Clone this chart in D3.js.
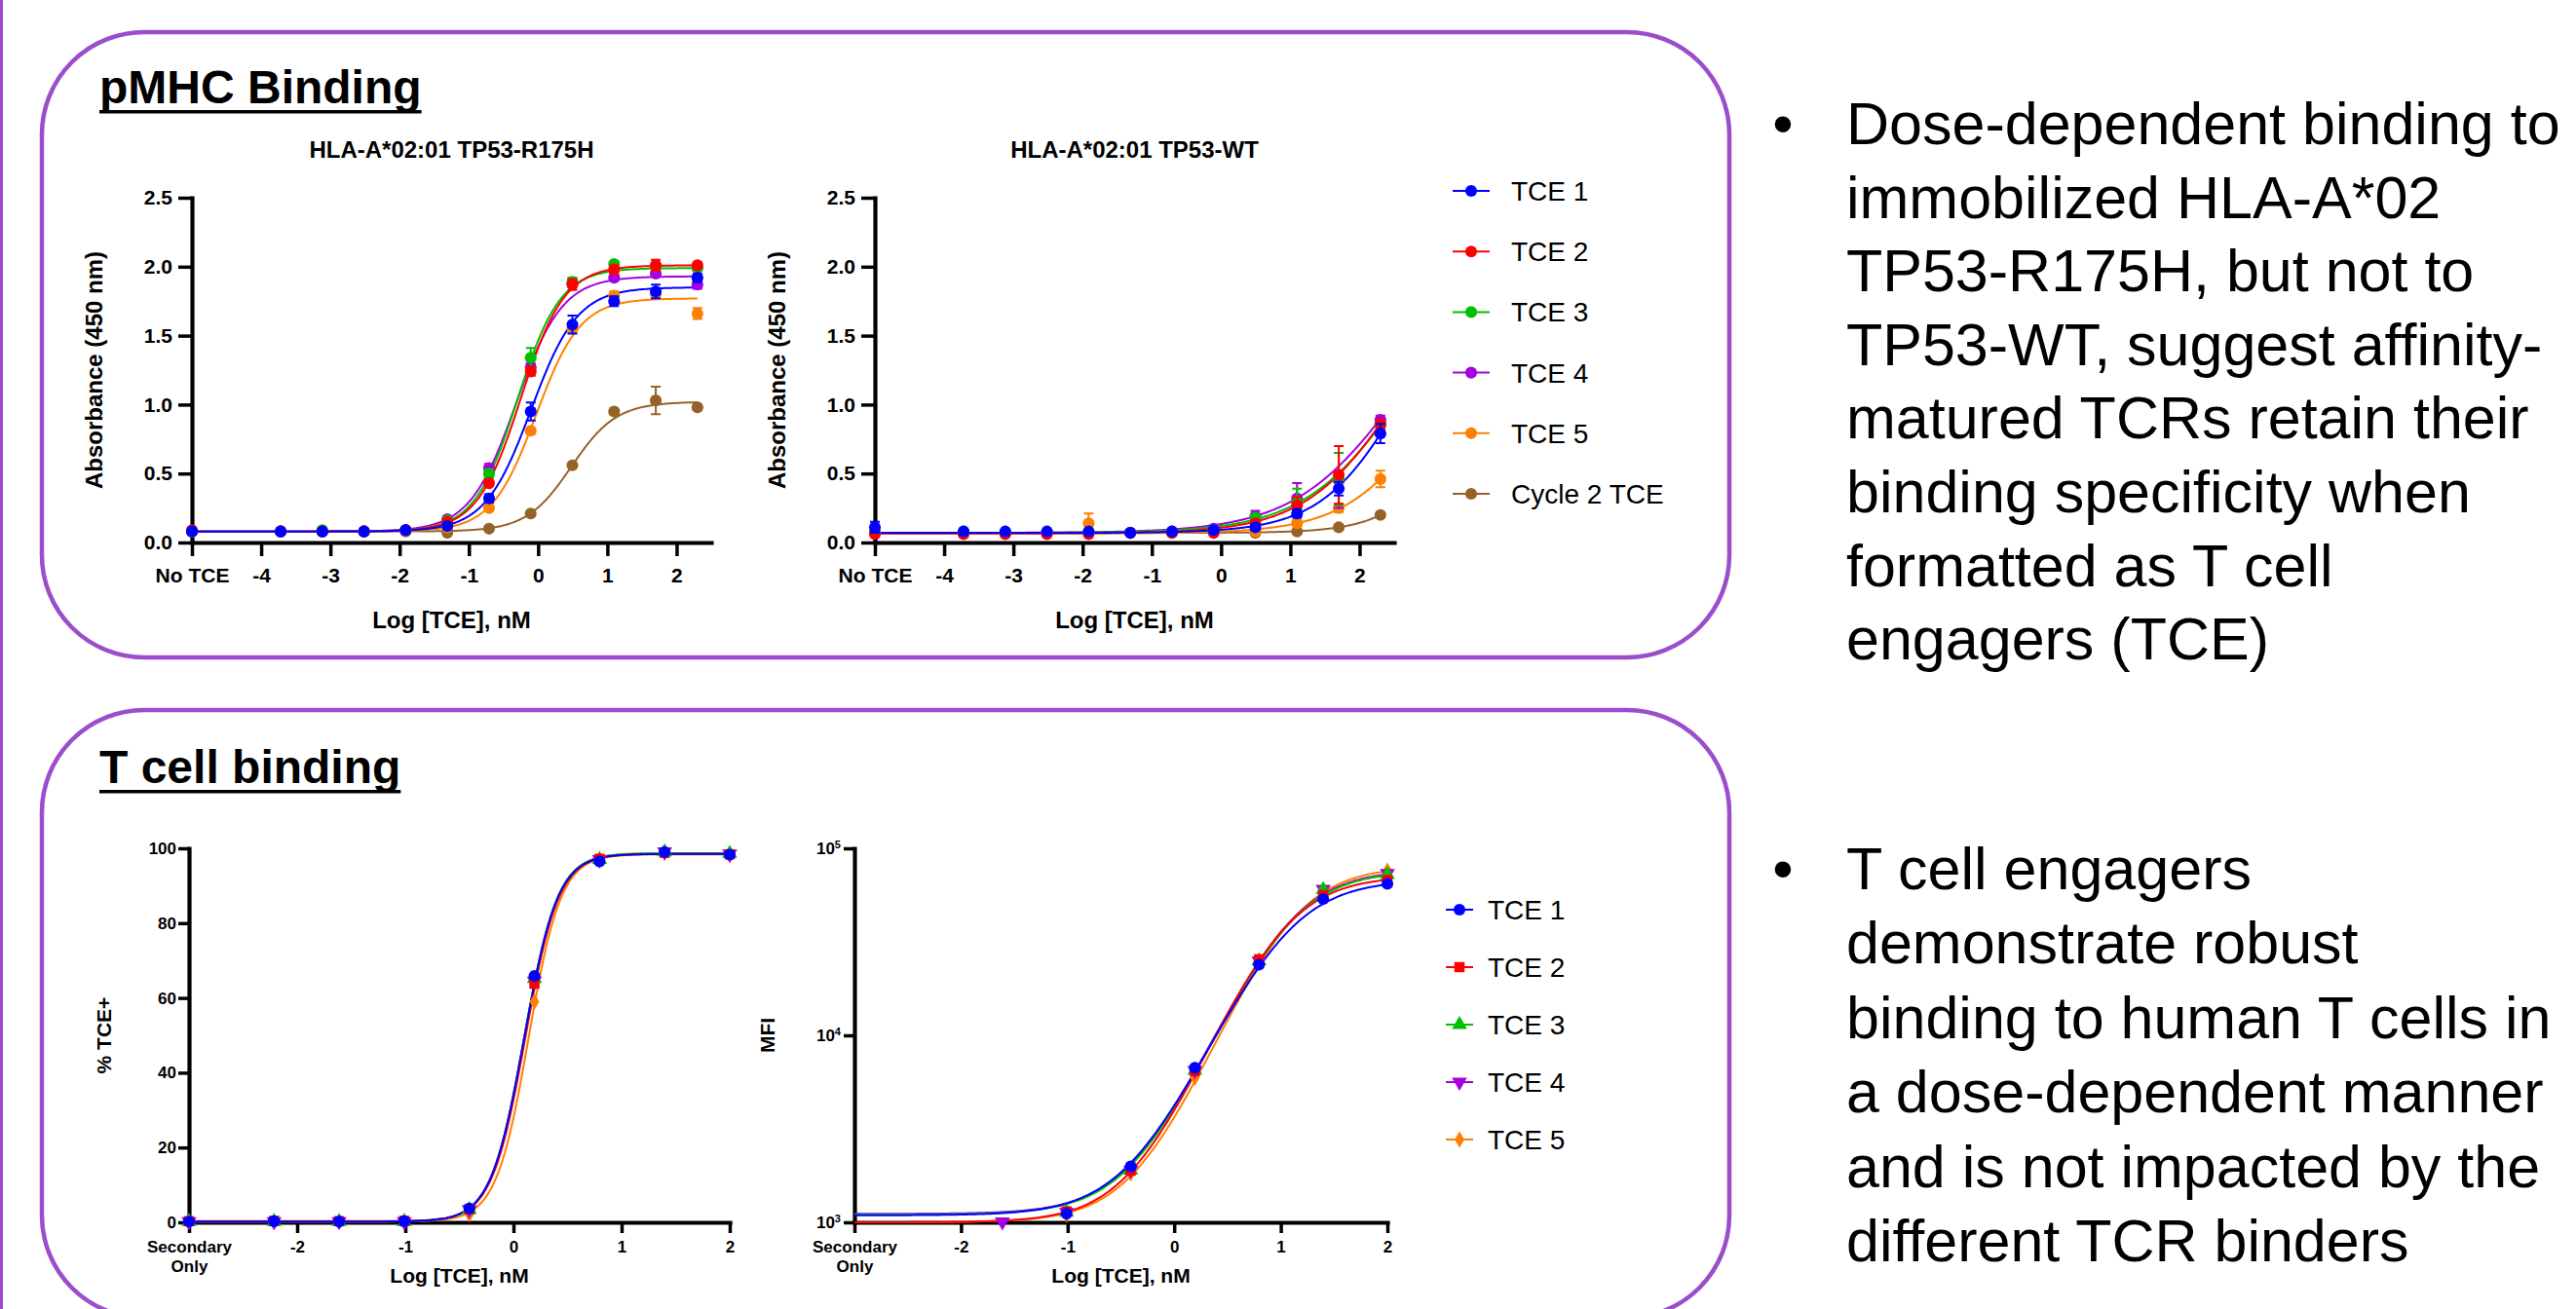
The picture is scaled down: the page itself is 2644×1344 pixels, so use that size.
<!DOCTYPE html>
<html>
<head>
<meta charset="utf-8">
<script src="https://cdn.jsdelivr.net/npm/d3@7"></script>
<style>
  body { margin: 0; background: #fff; }
  svg { display: block; font-family: "Liberation Sans", Arial, sans-serif; }
</style>
</head>
<body>
<div id="fig"></div>
<script>
// ---- data ----
// log10 [TCE] nM, first entry = "No TCE" control
var pmhcDose = [-5, -3.719, -3.117, -2.515, -1.913, -1.311, -0.709, -0.107, 0.495, 1.097, 1.699, 2.301];
var pmhcNames = ["TCE 1", "TCE 2", "TCE 3", "TCE 4", "TCE 5", "Cycle 2 TCE"];
var pmhcColors = ["#0000ff", "#ff0000", "#00c000", "#a600e0", "#ff8000", "#956228"];

var r175hMean = [
  [0.08, 0.08, 0.08, 0.08, 0.09, 0.12, 0.32, 0.95, 1.58, 1.75, 1.82, 1.92],
  [0.09, 0.08, 0.08, 0.08, 0.09, 0.15, 0.43, 1.24, 1.87, 1.98, 2.01, 2.01],
  [0.08, 0.08, 0.09, 0.08, 0.09, 0.16, 0.50, 1.34, 1.89, 2.02, 2.00, 1.99],
  [0.08, 0.08, 0.08, 0.08, 0.09, 0.17, 0.54, 1.27, 1.88, 1.92, 1.95, 1.87],
  [0.08, 0.08, 0.08, 0.08, 0.09, 0.11, 0.25, 0.81, 1.55, 1.79, 1.80, 1.66],
  [0.08, 0.08, 0.08, 0.08, 0.08, 0.07, 0.10, 0.21, 0.56, 0.95, 1.03, 0.98]
];
var r175hErr = [
  [0.02, 0, 0, 0, 0, 0.02, 0.03, 0.065, 0.065, 0.035, 0.05, 0.03],
  [0, 0, 0, 0, 0.01, 0.02, 0.02, 0.03, 0.04, 0.03, 0.04, 0.02],
  [0, 0, 0, 0, 0, 0.02, 0.03, 0.07, 0.03, 0.02, 0.02, 0.02],
  [0, 0, 0, 0, 0, 0.02, 0.03, 0.03, 0.02, 0.02, 0.02, 0.03],
  [0, 0, 0, 0, 0, 0.01, 0.02, 0.02, 0.03, 0.03, 0.03, 0.04],
  [0, 0, 0, 0, 0, 0, 0, 0.01, 0.01, 0.02, 0.10, 0.02]
];
// 4PL fit: bottom, top, logEC50, hill
var r175hFit = [
  [0.08, 1.85, -0.10, 1.30],
  [0.08, 2.01, -0.25, 1.38],
  [0.08, 1.99, -0.30, 1.40],
  [0.08, 1.93, -0.32, 1.30],
  [0.08, 1.77, -0.03, 1.36],
  [0.08, 1.02, 0.48, 1.34]
];

var wtMean = [
  [0.11, 0.08, 0.08, 0.08, 0.08, 0.07, 0.08, 0.09, 0.11, 0.21, 0.39, 0.79],
  [0.06, 0.06, 0.06, 0.06, 0.06, 0.07, 0.07, 0.07, 0.14, 0.27, 0.49, 0.86],
  [0.07, 0.08, 0.07, 0.07, 0.07, 0.07, 0.07, 0.09, 0.18, 0.29, 0.46, 0.85],
  [0.07, 0.07, 0.07, 0.07, 0.07, 0.07, 0.08, 0.10, 0.19, 0.32, 0.45, 0.89],
  [0.07, 0.07, 0.07, 0.07, 0.14, 0.07, 0.07, 0.08, 0.08, 0.14, 0.25, 0.46],
  [0.07, 0.07, 0.07, 0.07, 0.07, 0.07, 0.07, 0.07, 0.07, 0.08, 0.11, 0.20]
];
var wtErr = [
  [0.04, 0, 0, 0, 0, 0, 0, 0.01, 0.02, 0.03, 0.05, 0.07],
  [0, 0, 0, 0, 0, 0, 0, 0, 0.02, 0.06, 0.21, 0.03],
  [0, 0.01, 0, 0, 0, 0, 0, 0, 0.02, 0.10, 0.19, 0.03],
  [0, 0, 0, 0, 0, 0, 0, 0, 0.04, 0.11, 0.20, 0.03],
  [0, 0, 0, 0, 0.07, 0, 0, 0, 0, 0.02, 0.03, 0.06],
  [0, 0, 0, 0, 0, 0, 0, 0, 0, 0.01, 0.01, 0.01]
];
var wtFit = [
  [0.07, 2.0, 2.61, 0.74],
  [0.065, 2.0, 2.54, 0.65],
  [0.07, 2.0, 2.58, 0.61],
  [0.07, 2.0, 2.52, 0.58],
  [0.065, 2.0, 3.18, 0.67],
  [0.07, 2.0, 3.60, 0.88]
];

// log10 [TCE] nM, first entry = "Secondary Only"
var tcellDose = [-3, -2.214, -1.612, -1.010, -0.408, 0.194, 0.796, 1.398, 2.0];
var tcellNames = ["TCE 1", "TCE 2", "TCE 3", "TCE 4", "TCE 5"];
var tcellColors = ["#0000ff", "#ff0000", "#00c000", "#a600e0", "#ff8000"];
var tcellShapes = ["circle", "square", "triangle", "triangleDown", "diamond"];

var pctMean = [
  [0.2, 0.3, 0.2, 0.3, 3.7, 65.9, 96.5, 99.0, 98.3],
  [0.3, 0.4, 0.3, 0.4, 3.5, 63.8, 97.2, 98.8, 98.4],
  [0.2, 0.2, 0.2, 0.2, 3.4, 65.2, 97.0, 99.0, 98.6],
  [0.2, 0.2, 0.2, 0.2, 3.4, 64.5, 97.0, 99.1, 98.5],
  [0.2, 0.2, 0.2, 0.2, 2.2, 59.0, 96.8, 98.8, 98.2]
];
var pctFit = [
  [0.2, 98.5, 0.10, 2.8],
  [0.3, 98.5, 0.11, 2.8],
  [0.2, 98.7, 0.10, 2.8],
  [0.2, 98.6, 0.10, 2.8],
  [0.2, 98.4, 0.14, 2.9]
];

var mfiMean = [
  [null, null, null, 1115, 1990, 6700, 23900, 53600, 64500],
  [null, null, null, 1145, 1890, 6430, 25500, 56200, 67700],
  [null, null, null, 1130, 1900, 6500, 25000, 60000, 72300],
  [null, null, 1005, 1130, 1900, 6500, 25000, 60500, 73400],
  [null, null, null, 1100, 1830, 5940, 24500, 58000, 75800]
];
var mfiFit = [
  [1090, 68000, 1.04, 1.26],
  [1000, 71000, 1.01, 1.34],
  [1100, 76000, 1.06, 1.30],
  [1110, 77000, 1.06, 1.30],
  [1000, 80000, 1.09, 1.34]
];

var absTicks = [0, 0.5, 1, 1.5, 2, 2.5];
var pmhcXTicks = [-5, -4, -3, -2, -1, 0, 1, 2];
var pmhcXLabels = ["No TCE", "-4", "-3", "-2", "-1", "0", "1", "2"];
var tcellXTicks = [-3, -2, -1, 0, 1, 2];
var tcellXLabels = [["Secondary", "Only"], "-2", "-1", "0", "1", "2"];
var pctTicks = [0, 20, 40, 60, 80, 100];
var mfiTicks = [1e3, 1e4, 1e5];

var bullet1 = ["Dose-dependent binding to", "immobilized HLA-A*02", "TP53-R175H, but not to",
  "TP53-WT, suggest affinity-", "matured TCRs retain their", "binding specificity when",
  "formatted as T cell", "engagers (TCE)"];
var bullet2 = ["T cell engagers", "demonstrate robust", "binding to human T cells in",
  "a dose-dependent manner", "and is not impacted by the", "different TCR binders"];

// ---- layout ----
var W = 2644, H = 1344;
var purple = "#9b4dcc";
var svg = d3.select("#fig").append("svg").attr("width", W).attr("height", H);

svg.append("rect").attr("x", 0).attr("y", 0).attr("width", 3).attr("height", H).attr("fill", purple);
svg.append("rect").attr("x", 43).attr("y", 33).attr("width", 1732).attr("height", 642).attr("rx", 105)
  .attr("fill", "none").attr("stroke", purple).attr("stroke-width", 4.5);
svg.append("rect").attr("x", 43).attr("y", 729).attr("width", 1732).attr("height", 624).attr("rx", 105)
  .attr("fill", "none").attr("stroke", purple).attr("stroke-width", 4.5);

function sectionTitle(txt, x, y) {
  var t = svg.append("text").attr("x", x).attr("y", y).attr("font-size", 48).attr("font-weight", "bold").text(txt);
  var w = t.node().getComputedTextLength();
  svg.append("rect").attr("x", x).attr("y", y + 7).attr("width", w).attr("height", 3.5).attr("fill", "#000");
}
sectionTitle("pMHC Binding", 102, 106);
sectionTitle("T cell binding", 102, 804);

function fourPL(p, x) {
  return p[0] + (p[1] - p[0]) / (1 + Math.pow(10, (p[2] - x) * p[3]));
}

function symbolPath(shape) {
  if (shape === "square") return d3.symbol().type(d3.symbolSquare).size(110)();
  if (shape === "triangle" || shape === "triangleDown") return d3.symbol().type(d3.symbolTriangle).size(105)();
  if (shape === "diamond") return d3.symbol().type(d3.symbolDiamond).size(85)();
  return d3.symbol().type(d3.symbolCircle).size(115)();
}

function drawAxes(x, y, c) {
  var xa = d3.axisBottom(x).tickValues(c.xTicks).tickSize(c.tick).tickSizeOuter(0).tickPadding(c.xPad)
    .tickFormat(function(d, i) { return Array.isArray(c.xLabels[i]) ? "" : c.xLabels[i]; });
  var gx = svg.append("g").attr("transform", "translate(0," + y.range()[0] + ")").call(xa);
  gx.selectAll(".tick text").each(function(d, i) {
    var lab = c.xLabels[i];
    if (Array.isArray(lab)) {
      var t = d3.select(this).attr("dy", null);
      lab.forEach(function(s, j) {
        t.append("tspan").attr("x", 0).attr("dy", j === 0 ? "0.71em" : "1.15em").text(s);
      });
    }
  });
  var ya = d3.axisLeft(y).tickValues(c.yTicks).tickSize(c.tick).tickSizeOuter(0).tickPadding(c.yPad)
    .tickFormat(c.yFormat || "");
  var gy = svg.append("g").attr("transform", "translate(" + x.range()[0] + ",0)").call(ya);
  if (c.logLabels) {
    gy.selectAll(".tick").each(function(d) {
      var t = d3.select(this).append("text").attr("x", -(c.tick + c.yPad)).attr("dy", "0.35em")
        .attr("text-anchor", "end").attr("fill", "#000");
      t.append("tspan").text("10");
      t.append("tspan").attr("dy", "-0.55em").attr("font-size", c.font * 0.65).text(Math.round(Math.log10(d)));
    });
  }
  [gx, gy].forEach(function(g) {
    g.attr("font-size", c.font).attr("font-family", null).attr("font-weight", "bold");
    g.select(".domain").attr("stroke-width", 4.2).attr("stroke-linecap", "square");
    g.selectAll(".tick line").attr("stroke-width", 3.5);
    g.selectAll("text").attr("fill", "#000");
  });
  svg.append("text").attr("x", d3.mean(x.range())).attr("y", c.xTitleY).attr("text-anchor", "middle")
    .attr("font-size", c.titleFont).attr("font-weight", "bold").text("Log [TCE], nM");
  svg.append("text").attr("transform", "translate(" + c.yTitleX + "," + d3.mean(y.range()) + ") rotate(-90)")
    .attr("dy", "0.36em").attr("text-anchor", "middle").attr("font-size", c.titleFont).attr("font-weight", "bold")
    .text(c.yTitle);
}

function plotSeries(x, y, c) {
  var g = svg.append("g");
  var order = d3.range(c.means.length).reverse();
  var line = d3.line().x(function(d) { return x(d[0]); }).y(function(d) { return y(d[1]); });
  var xs = d3.range(x.domain()[0], c.curveEnd, 0.02).concat([c.curveEnd]);
  order.forEach(function(k) {
    g.append("path").datum(xs.map(function(d) { return [d, fourPL(c.fits[k], d)]; }))
      .attr("d", line).attr("fill", "none").attr("stroke", c.colors[k]).attr("stroke-width", 2);
  });
  order.forEach(function(k) {
    var pts = c.dose.map(function(d, i) {
      return { x: d, v: c.means[k][i], e: c.errs ? c.errs[k][i] : 0 };
    }).filter(function(p) { return p.v != null; });
    g.append("g").attr("stroke", c.colors[k]).attr("stroke-width", 2).attr("fill", "none")
      .selectAll("path").data(pts.filter(function(p) { return p.e > 0; })).enter().append("path")
      .attr("d", function(p) {
        var x0 = x(p.x), y0 = y(p.v - p.e), y1 = y(p.v + p.e);
        return "M" + (x0 - 5) + "," + y0 + "H" + (x0 + 5) + "M" + x0 + "," + y0 + "V" + y1 +
          "M" + (x0 - 5) + "," + y1 + "H" + (x0 + 5);
      });
    var shape = c.shapes ? c.shapes[k] : "circle";
    g.append("g").selectAll("path").data(pts).enter().append("path")
      .attr("transform", function(p) {
        return "translate(" + x(p.x) + "," + y(p.v) + ")" + (shape === "triangleDown" ? " rotate(180)" : "");
      })
      .attr("d", symbolPath(shape)).attr("fill", c.colors[k]);
  });
}

function chartTitle(txt, x) {
  svg.append("text").attr("x", d3.mean(x.range())).attr("y", 162).attr("text-anchor", "middle")
    .attr("font-size", 24).attr("font-weight", "bold").text(txt);
}

function legend(x0, y0, dy, gap, names, colors, shapes) {
  names.forEach(function(n, i) {
    var yy = y0 + i * dy;
    var half = gap > 35 ? 19 : 14;
    svg.append("line").attr("x1", x0 - half).attr("x2", x0 + half).attr("y1", yy).attr("y2", yy)
      .attr("stroke", colors[i]).attr("stroke-width", 2);
    var shape = shapes ? shapes[i] : "circle";
    svg.append("path").attr("d", symbolPath(shape)).attr("fill", colors[i])
      .attr("transform", "translate(" + x0 + "," + yy + ")" + (shape === "triangleDown" ? " rotate(180)" : ""));
    svg.append("text").attr("x", x0 + gap).attr("y", yy).attr("dy", "0.36em").attr("font-size", 28).text(n);
  });
}

// ---- pMHC binding ----
var x1 = d3.scaleLinear().domain([-5, 2.5]).range([197, 730]);
var x2 = d3.scaleLinear().domain([-5, 2.5]).range([898, 1431]);
var yAbs = d3.scaleLinear().domain([0, 2.5]).range([557, 203]);

var pmhcAxis = { xTicks: pmhcXTicks, xLabels: pmhcXLabels, yTicks: absTicks, yFormat: d3.format(".1f"),
  tick: 14, xPad: 12, yPad: 6, font: 21, titleFont: 24, xTitleY: 645, yTitle: "Absorbance (450 nm)" };
drawAxes(x1, yAbs, Object.assign({ yTitleX: 96 }, pmhcAxis));
drawAxes(x2, yAbs, Object.assign({ yTitleX: 797 }, pmhcAxis));
chartTitle("HLA-A*02:01 TP53-R175H", x1);
chartTitle("HLA-A*02:01 TP53-WT", x2);

plotSeries(x1, yAbs, { dose: pmhcDose, means: r175hMean, errs: r175hErr, fits: r175hFit, colors: pmhcColors, curveEnd: 2.301 });
plotSeries(x2, yAbs, { dose: pmhcDose, means: wtMean, errs: wtErr, fits: wtFit, colors: pmhcColors, curveEnd: 2.301 });
legend(1510, 196, 62.2, 41, pmhcNames, pmhcColors, null);

// ---- T cell binding ----
var x3 = d3.scaleLinear().domain([-3, 2]).range([194, 749]);
var x4 = d3.scaleLinear().domain([-3, 2]).range([877, 1424]);
var yPct = d3.scaleLinear().domain([0, 100]).range([1255, 871]);
var yMfi = d3.scaleLog().domain([1e3, 1e5]).range([1255, 871]);

drawAxes(x3, yPct, { xTicks: tcellXTicks, xLabels: tcellXLabels, yTicks: pctTicks, yFormat: d3.format("d"),
  tick: 11, xPad: 8, yPad: 2, font: 17, titleFont: 21, xTitleY: 1317, yTitle: "% TCE+", yTitleX: 106 });
drawAxes(x4, yMfi, { xTicks: tcellXTicks, xLabels: tcellXLabels, yTicks: mfiTicks, logLabels: true,
  tick: 11, xPad: 8, yPad: 3, font: 17, titleFont: 21, xTitleY: 1317, yTitle: "MFI", yTitleX: 787 });

plotSeries(x3, yPct, { dose: tcellDose, means: pctMean, fits: pctFit, colors: tcellColors, shapes: tcellShapes, curveEnd: 2.0 });
plotSeries(x4, yMfi, { dose: tcellDose, means: mfiMean, fits: mfiFit, colors: tcellColors, shapes: tcellShapes, curveEnd: 2.0 });
legend(1498, 934, 59, 29, tcellNames, tcellColors, tcellShapes);

// ---- bullet text ----
function bullets(lines, y0, dy) {
  svg.append("text").attr("x", 1830).attr("y", y0).attr("text-anchor", "middle").attr("font-size", 61).text("\u2022");
  lines.forEach(function(s, i) {
    svg.append("text").attr("x", 1895).attr("y", y0 + i * dy).attr("font-size", 61).attr("fill", "#000").text(s);
  });
}
bullets(bullet1, 148, 75.6);
bullets(bullet2, 913, 76.4);
</script>
</body>
</html>
